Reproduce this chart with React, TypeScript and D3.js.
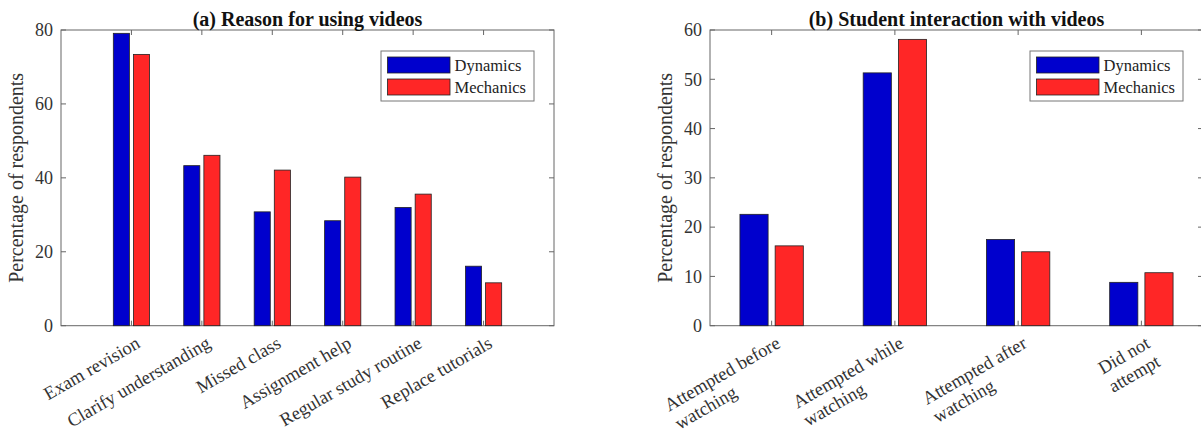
import React, { useEffect, useRef } from 'react';
import * as d3 from 'd3';

const W = 1201;
const H = 435;
const FONT = '"Liberation Serif", "Times New Roman", serif';

const seriesNames = ['Dynamics', 'Mechanics'];
const seriesColors = ['#0000cd', '#ff2626'];

// (a) Reason for using videos
const reasonCats = [
  ['Exam revision'],
  ['Clarify understanding'],
  ['Missed class'],
  ['Assignment help'],
  ['Regular study routine'],
  ['Replace tutorials']
];
const reasonDynamics = [79.1, 43.3, 30.8, 28.4, 32.0, 16.1];
const reasonMechanics = [73.4, 46.1, 42.1, 40.2, 35.6, 11.6];
const reasonTicks = [0, 20, 40, 60, 80];

// (b) Student interaction with videos
const interactCats = [
  ['Attempted before', 'watching'],
  ['Attempted while', 'watching'],
  ['Attempted after', 'watching'],
  ['Did not', 'attempt']
];
const interactDynamics = [22.6, 51.3, 17.5, 8.8];
const interactMechanics = [16.2, 58.1, 15.0, 10.75];
const interactTicks = [0, 10, 20, 30, 40, 50, 60];

type Panel = {
  title: string;
  cats: string[][];
  values: number[][];
  ticks: number[];
  ymax: number;
  xlim: [number, number];
  left: number;
  legendX: number;
};

const panels: Panel[] = [
  {
    title: '(a) Reason for using videos',
    cats: reasonCats,
    values: [reasonDynamics, reasonMechanics],
    ticks: reasonTicks,
    ymax: 80,
    xlim: [0, 7],
    left: 61,
    legendX: 381
  },
  {
    title: '(b) Student interaction with videos',
    cats: interactCats,
    values: [interactDynamics, interactMechanics],
    ticks: interactTicks,
    ymax: 60,
    xlim: [0.5, 4.5],
    left: 710,
    legendX: 1030
  }
];

const top = 30;
const bottom = 325.7;
const boxW = 493;
const tickLen = 5;
const axisColor = '#666';
const textColor = '#333';

function drawPanel(g: d3.Selection<SVGGElement, unknown, null, undefined>, p: Panel) {
  const x = d3.scaleLinear().domain(p.xlim).range([p.left, p.left + boxW]);
  const y = d3.scaleLinear().domain([0, p.ymax]).range([bottom, top]);
  const n = p.values.length;
  // matlab style grouped bars
  const groupW = Math.min(0.8, n / (n + 1.5));
  const barW = (0.8 * groupW) / n;
  const offsets = d3.range(n).map(i => (i - (n - 1) / 2) * (groupW / n));
  const idx = d3.range(p.cats.length);

  g.append('rect')
    .attr('x', p.left)
    .attr('y', top)
    .attr('width', boxW)
    .attr('height', bottom - top)
    .attr('fill', 'white')
    .attr('stroke', axisColor)
    .attr('stroke-width', 1);

  p.values.forEach((vals, s) => {
    g.selectAll(null)
      .data(vals)
      .enter()
      .append('rect')
      .attr('x', (d, i) => x(i + 1 + offsets[s] - barW / 2))
      .attr('width', x(barW) - x(0))
      .attr('y', d => y(d))
      .attr('height', d => y(0) - y(d))
      .attr('fill', seriesColors[s])
      .attr('stroke', '#222')
      .attr('stroke-width', 0.8);
  });

  // y ticks on both sides
  p.ticks.forEach(t => {
    g.append('line')
      .attr('x1', p.left).attr('x2', p.left + tickLen)
      .attr('y1', y(t)).attr('y2', y(t))
      .attr('stroke', axisColor);
    g.append('line')
      .attr('x1', p.left + boxW).attr('x2', p.left + boxW - tickLen)
      .attr('y1', y(t)).attr('y2', y(t))
      .attr('stroke', axisColor);
    g.append('text')
      .attr('x', p.left - 8)
      .attr('y', y(t))
      .attr('dy', '0.35em')
      .attr('text-anchor', 'end')
      .attr('font-family', FONT)
      .attr('font-size', 18)
      .attr('fill', textColor)
      .text(t);
  });

  // x ticks top and bottom
  idx.forEach(i => {
    const cx = x(i + 1);
    g.append('line')
      .attr('x1', cx).attr('x2', cx)
      .attr('y1', top).attr('y2', top + tickLen)
      .attr('stroke', axisColor);
    g.append('line')
      .attr('x1', cx).attr('x2', cx)
      .attr('y1', bottom).attr('y2', bottom - tickLen)
      .attr('stroke', axisColor);
  });

  // rotated category labels, lines left aligned in a block that ends at the tick
  idx.forEach(i => {
    const cx = x(i + 1);
    const lg = g.append('g').attr('transform', `translate(${cx + 3},${bottom + 9}) rotate(-30)`);
    const texts = p.cats[i].map((line, k) =>
      lg.append('text')
        .attr('y', k * 21)
        .attr('dy', '0.75em')
        .attr('font-family', FONT)
        .attr('font-size', 18.5)
        .attr('fill', textColor)
        .text(line)
    );
    const widths = texts.map(t => (t.node() as SVGTextElement).getComputedTextLength());
    const maxW = d3.max(widths) || 0;
    texts.forEach(t => t.attr('x', -maxW));
  });

  g.append('text')
    .attr('transform', `translate(${p.left - 38},${(top + bottom) / 2}) rotate(-90)`)
    .attr('text-anchor', 'middle')
    .attr('font-family', FONT)
    .attr('font-size', 20)
    .attr('fill', textColor)
    .text('Percentage of respondents');

  g.append('text')
    .attr('x', p.left + boxW / 2)
    .attr('y', 26)
    .attr('text-anchor', 'middle')
    .attr('font-family', FONT)
    .attr('font-weight', 'bold')
    .attr('font-size', 20)
    .attr('fill', '#111')
    .text(p.title);

  // legend
  const lgX = p.legendX;
  const leg = g.append('g');
  leg.append('rect')
    .attr('x', lgX).attr('y', 51)
    .attr('width', 153).attr('height', 50)
    .attr('fill', 'white')
    .attr('stroke', '#777');
  seriesNames.forEach((name, s) => {
    const yy = 57 + s * 22;
    leg.append('rect')
      .attr('x', lgX + 6.5).attr('y', yy)
      .attr('width', 62.5).attr('height', 16)
      .attr('fill', seriesColors[s])
      .attr('stroke', '#222')
      .attr('stroke-width', 0.8);
    leg.append('text')
      .attr('x', lgX + 73.5)
      .attr('y', yy + 8)
      .attr('dy', '0.35em')
      .attr('font-family', FONT)
      .attr('font-size', 16.5)
      .attr('fill', '#222')
      .text(name);
  });
}

export default function App() {
  const ref = useRef<SVGSVGElement>(null);

  useEffect(() => {
    const svg = d3.select(ref.current);
    svg.selectAll('*').remove();
    panels.forEach(p => {
      drawPanel(svg.append('g'), p);
    });
  }, []);

  return (
    <svg
      ref={ref}
      width={W}
      height={H}
      style={{ position: 'absolute', left: 0, top: 0, background: 'white' }}
    />
  );
}
